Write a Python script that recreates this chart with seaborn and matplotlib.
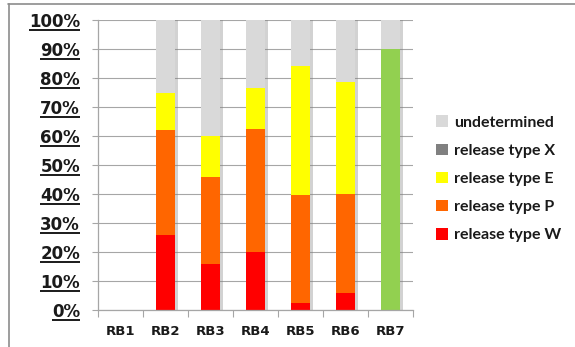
import numpy as np
import pandas as pd
import matplotlib
matplotlib.use("Agg")
import matplotlib.pyplot as plt
import matplotlib.patheffects as pe
from matplotlib.lines import Line2D
from matplotlib.patches import Patch
import seaborn as sns

# Release-type shares (percent) per river basin
basins = ["RB1", "RB2", "RB3", "RB4", "RB5", "RB6", "RB7"]
type_w = [0, 26, 16, 20, 2.5, 6, 0]
type_p = [0, 36, 30, 42.5, 37, 34, 0]
type_e = [0, 13, 14, 14, 44.5, 38.5, 0]
type_x = [0, 0, 0, 0, 0, 0, 0]
other = [0, 0, 0, 0, 0, 0, 90]
undetermined = [0, 25, 40, 23.5, 16, 21.5, 10]

y_ticks = [0, 10, 20, 30, 40, 50, 60, 70, 80, 90, 100]
y_tick_labels = [f"{t}%" for t in y_ticks]

legend_labels = ["undetermined", "release type X", "release type E",
                 "release type P", "release type W"]

colors = {
    "undetermined": "#D9D9D9",
    "release type X": "#808080",
    "release type E": "#FFFF00",
    "release type P": "#FF6600",
    "release type W": "#FF0000",
    "other": "#92D050",
}

sns.set_theme(style="white")
plt.rcParams["font.family"] = ["DejaVu Sans"]

W_PX, H_PX = 575, 347
fig = plt.figure(figsize=(W_PX / 100, H_PX / 100), dpi=100)
ax = fig.add_axes([98 / W_PX, 1 - 310 / H_PX, 315 / W_PX, 290 / H_PX])

# Stack layers bottom to top; draw cumulative heights from the tallest down
layers = [
    ("release type W", type_w),
    ("release type P", type_p),
    ("release type E", type_e),
    ("release type X", type_x),
    ("other", other),
    ("undetermined", undetermined),
]
cum = np.zeros(len(basins))
cumulative = []
for name, vals in layers:
    cum = cum + np.array(vals, dtype=float)
    cumulative.append((name, cum.copy()))

bar_width = 0.42

# Soft drop shadow behind each full stack
total = cumulative[-1][1]
sns.barplot(x=basins, y=total, order=basins, color="white", width=bar_width,
            saturation=1, errorbar=None, linewidth=0, ax=ax)
for patch in ax.patches:
    patch.set_path_effects([
        pe.SimplePatchShadow(offset=(2.2, 0), shadow_rgbFace="#7f7f7f", alpha=0.35),
        pe.Normal(),
    ])

for name, heights in reversed(cumulative):
    sns.barplot(x=basins, y=heights, order=basins, color=colors[name],
                width=bar_width, saturation=1, errorbar=None, linewidth=0, ax=ax)

ax.set_xlim(-0.5, len(basins) - 0.5)
ax.set_ylim(0, 100)
ax.set_xlabel("")
ax.set_ylabel("")

# Gridlines and axes
ax.set_yticks(y_ticks)
ax.set_yticklabels(y_tick_labels, fontweight="bold")
ax.yaxis.grid(True, color="#A6A6A6", linewidth=0.8)
ax.set_axisbelow(True)
for side in ["top", "right"]:
    ax.spines[side].set_visible(False)
for side in ["left", "bottom"]:
    ax.spines[side].set_color("#A6A6A6")
    ax.spines[side].set_linewidth(0.9)

ax.tick_params(axis="y", which="major", length=4, width=0.8, color="#A6A6A6",
               pad=9, labelsize=12, labelcolor="#1a1a1a", left=True)
ax.set_xticks(range(len(basins)))
ax.set_xticklabels(basins, fontweight="bold")
ax.set_xticks(np.arange(-0.5, len(basins), 1.0), minor=True)
ax.tick_params(axis="x", which="major", length=0, pad=11, labelsize=9.5,
               labelcolor="#1a1a1a", bottom=True)
ax.tick_params(axis="x", which="minor", length=5, width=0.8, color="#A6A6A6",
               bottom=True)

# Legend
handles = [Patch(facecolor=colors[n], edgecolor="none") for n in legend_labels]
leg = fig.legend(handles, legend_labels, loc="upper left",
                 bbox_to_anchor=(422 / W_PX, 1 - 101 / H_PX),
                 frameon=False, handlelength=0.7, handleheight=0.7,
                 handletextpad=0.4, labelspacing=0.88,
                 prop={"family": "Lato", "weight": "bold", "size": 11.5})
for txt in leg.get_texts():
    txt.set_color("#1a1a1a")

# Outer frame
fig.add_artist(Line2D([8 / W_PX, 1], [1 - 3.5 / H_PX, 1 - 3.5 / H_PX],
                      transform=fig.transFigure, color="#8c8c8c", linewidth=1.2))
fig.add_artist(Line2D([8.5 / W_PX, 8.5 / W_PX], [0, 1 - 3.5 / H_PX],
                      transform=fig.transFigure, color="#8c8c8c", linewidth=1.2))

# Underline the percentage labels
fig.canvas.draw()
renderer = fig.canvas.get_renderer()
for lbl in ax.get_yticklabels():
    if not lbl.get_text():
        continue
    bb = lbl.get_window_extent(renderer)
    y_line = bb.y0 + 1.0
    fig.add_artist(Line2D([bb.x0 / W_PX, bb.x1 / W_PX],
                          [y_line / H_PX, y_line / H_PX],
                          transform=fig.transFigure, color="#1a1a1a",
                          linewidth=1.4, solid_capstyle="butt"))

fig.savefig("out.png", dpi=100)
